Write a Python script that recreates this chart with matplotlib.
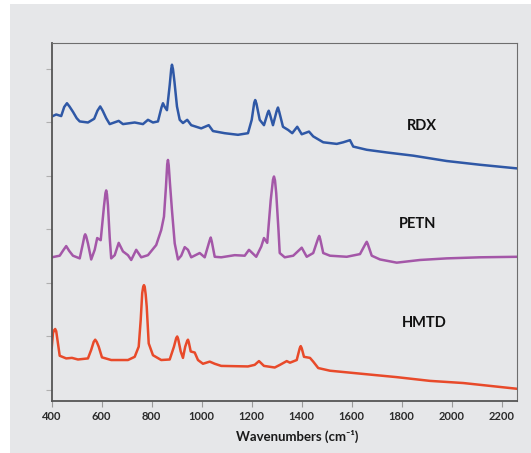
import matplotlib
matplotlib.use("Agg")
import matplotlib.pyplot as plt
from matplotlib.patches import Rectangle

# ---------------- data ----------------
rdx_wn = [400, 418, 438, 450, 461, 471, 485, 500, 512, 545, 570, 583, 594, 604, 618, 632,
          668, 685, 732, 765, 785, 805, 825, 839, 845, 851, 861, 872, 878, 881, 885, 891,
          901, 912, 925, 942, 958, 998, 1028, 1045, 1092, 1145, 1185, 1200, 1210, 1214,
          1219, 1232, 1249, 1264, 1268, 1273, 1285, 1300, 1305, 1310, 1325, 1346, 1362,
          1382, 1400, 1429, 1446, 1486, 1540, 1566, 1593, 1606, 1660, 1740, 1846, 1980,
          2113, 2265]
rdx_int = [5.11, 5.15, 5.12, 5.29, 5.36, 5.30, 5.20, 5.08, 5.02, 5.00, 5.07, 5.22, 5.30,
           5.22, 5.08, 4.97, 5.03, 4.97, 5.00, 4.97, 5.05, 5.00, 5.02, 5.28, 5.36, 5.30,
           5.23, 5.70, 6.00, 6.08, 6.00, 5.76, 5.30, 5.05, 4.99, 5.05, 4.95, 4.89, 4.95,
           4.84, 4.80, 4.77, 4.80, 5.05, 5.37, 5.42, 5.35, 5.05, 4.95, 5.18, 5.22, 5.15,
           4.95, 5.22, 5.28, 5.20, 4.92, 4.86, 4.80, 4.92, 4.78, 4.83, 4.74, 4.63, 4.60,
           4.63, 4.67, 4.55, 4.49, 4.44, 4.38, 4.28, 4.21, 4.14]

petn_wn = [400, 432, 446, 458, 470, 485, 512, 525, 531, 534, 538, 545, 558, 572, 582, 596,
           609, 615, 618, 621, 625, 632, 638, 652, 668, 685, 705, 718, 738, 758, 785, 818,
           838, 849, 857, 862, 865, 868, 873, 881, 892, 905, 918, 932, 945, 958, 992, 1012,
           1032, 1036, 1040, 1052, 1078, 1132, 1172, 1189, 1218, 1238, 1249, 1262, 1276,
           1285, 1289, 1293, 1298, 1307, 1312, 1332, 1366, 1400, 1420, 1446, 1466, 1470,
           1474, 1486, 1513, 1580, 1633, 1656, 1660, 1664, 1680, 1713, 1780, 1873, 1980,
           2113, 2266]
petn_int = [2.48, 2.51, 2.61, 2.69, 2.60, 2.51, 2.46, 2.74, 2.88, 2.91, 2.87, 2.74, 2.44,
            2.62, 2.84, 2.80, 3.43, 3.68, 3.73, 3.66, 3.45, 2.85, 2.46, 2.52, 2.75, 2.59,
            2.52, 2.43, 2.62, 2.48, 2.52, 2.71, 2.99, 3.24, 3.80, 4.22, 4.30, 4.20, 3.86,
            3.36, 2.74, 2.44, 2.51, 2.67, 2.62, 2.48, 2.56, 2.48, 2.80, 2.85, 2.78, 2.49,
            2.48, 2.52, 2.51, 2.62, 2.49, 2.68, 2.84, 2.75, 3.55, 3.93, 3.99, 3.92, 3.68,
            2.99, 2.56, 2.48, 2.51, 2.66, 2.49, 2.56, 2.84, 2.88, 2.82, 2.56, 2.51, 2.49,
            2.54, 2.74, 2.77, 2.73, 2.51, 2.44, 2.38, 2.43, 2.46, 2.48, 2.49]

hmtd_wn = [400, 405, 410, 414, 418, 422, 432, 458, 481, 505, 545, 558, 568, 574, 580, 588,
           601, 638, 705, 732, 748, 756, 762, 766, 769, 772, 776, 780, 788, 805, 838, 872,
           889, 898, 902, 906, 916, 925, 934, 942, 945, 948, 956, 972, 985, 1005, 1032,
           1052, 1078, 1185, 1212, 1229, 1249, 1292, 1313, 1340, 1353, 1380, 1392, 1396,
           1400, 1409, 1433, 1446, 1466, 1513, 1646, 1780, 1913, 2046, 2266]
hmtd_int = [0.78, 1.06, 1.12, 1.14, 1.10, 0.97, 0.64, 0.59, 0.60, 0.57, 0.59, 0.75, 0.90,
            0.94, 0.90, 0.81, 0.61, 0.56, 0.56, 0.62, 0.81, 1.31, 1.81, 1.93, 1.96, 1.93,
            1.78, 1.56, 0.87, 0.65, 0.56, 0.57, 0.81, 0.97, 1.00, 0.95, 0.72, 0.60, 0.81,
            0.92, 0.94, 0.90, 0.72, 0.70, 0.56, 0.49, 0.53, 0.49, 0.45, 0.44, 0.47, 0.54,
            0.45, 0.42, 0.47, 0.54, 0.51, 0.56, 0.78, 0.82, 0.78, 0.62, 0.60, 0.53, 0.41,
            0.36, 0.30, 0.24, 0.17, 0.13, 0.02]

series_names = ["RDX", "PETN", "HMTD"]
x_ticks = [400, 600, 800, 1000, 1200, 1400, 1600, 1800, 2000, 2200]
y_ticks = [0, 1, 2, 3, 4, 5, 6]
x_label = "Wavenumbers (cm⁻¹)"

# ---------------- styling ----------------
W, H = 531, 453
bg = "#e6e7e9"
colors = ["#2f58a6", "#a457a8", "#e84a2a"]
fam = ["Lato", "DejaVu Sans"]

fig = plt.figure(figsize=(W / 100, H / 100), dpi=100, facecolor="white")
fig.patches.append(Rectangle((10 / W, 0), 1 - 10 / W, 1 - 4 / H, transform=fig.transFigure,
                             facecolor=bg, edgecolor="none", zorder=-10))

left, right, top, bottom = 51.7, 517, 43, 401
ax = fig.add_axes([left / W, 1 - bottom / H, (right - left) / W, (bottom - top) / H])
ax.set_facecolor(bg)

for wn, it, c in zip([rdx_wn, petn_wn, hmtd_wn], [rdx_int, petn_int, hmtd_int], colors):
    ax.plot(wn, it, color=c, lw=1.8, solid_joinstyle="round", solid_capstyle="round")

ax.set_xlim(400, 2261)
ax.set_ylim(-0.206, 6.486)
ax.set_xticks(x_ticks)
ax.set_xticklabels([str(t) for t in x_ticks], fontfamily=fam, fontweight="bold",
                   fontsize=8, color="#2a2a2a")
ax.set_yticks(y_ticks)
ax.set_yticklabels([])
ax.tick_params(axis="x", direction="out", length=4, width=0.8, color="#9a9a9a", pad=3)
ax.tick_params(axis="y", direction="out", length=4, width=0.8, color="#b0b0b0")

for s in ["left", "bottom"]:
    ax.spines[s].set_color("#555555")
    ax.spines[s].set_linewidth(1.3)
for s in ["top", "right"]:
    ax.spines[s].set_color("#6e6e6e")
    ax.spines[s].set_linewidth(0.8)

# series labels (placed in pixel positions from the picture)
label_pos = [(421.7, 125.7), (417.3, 224), (424.3, 323.3)]
for name, (px, py) in zip(series_names, label_pos):
    fig.text(px / W, 1 - py / H, name, ha="center", va="center", fontfamily=fam,
             fontweight="bold", fontsize=10.5, color="#111111")

fig.text(297 / W, 1 - 436 / H, x_label, ha="center", va="center", fontfamily=fam,
         fontweight="bold", fontsize=9.5, color="#1a1a1a")

fig.savefig("out.png", dpi=100, facecolor="white")
